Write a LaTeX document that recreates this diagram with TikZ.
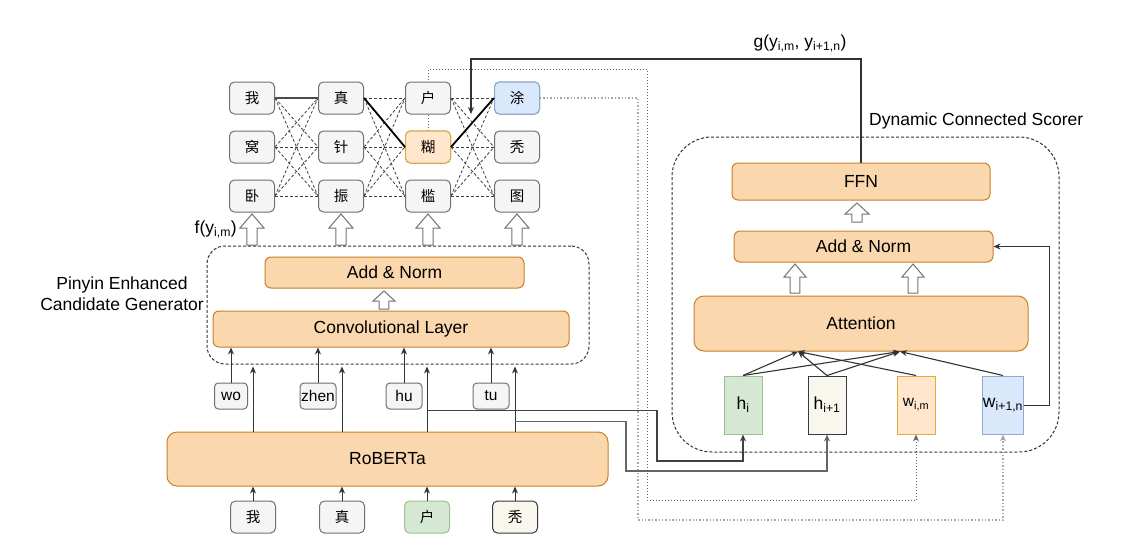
\documentclass[tikz,border=0pt]{standalone}
\usepackage{fontspec}
\setmainfont{Liberation Sans}
\newfontfamily\cjk{Noto Sans CJK SC}
\usetikzlibrary{arrows.meta,backgrounds,calc}
\definecolor{orfill}{HTML}{FAD7AC}
\definecolor{orline}{HTML}{C7812A}
\definecolor{gfill}{HTML}{F5F5F5}
\definecolor{gline}{HTML}{707070}
\definecolor{grfill}{HTML}{D5E8D4}
\definecolor{grline}{HTML}{9AC28A}
\definecolor{blfill}{HTML}{DAE8FC}
\definecolor{blline}{HTML}{8EA9D2}
\definecolor{pefill}{HTML}{FFE6CC}
\definecolor{peline}{HTML}{E0AC3A}
\definecolor{befill}{HTML}{F9F7ED}
\definecolor{beline}{HTML}{36393D}
\newcommand{\fs}{\fontsize{17.5pt}{20pt}\selectfont}
\newcommand{\fsm}{\fontsize{15.5pt}{17pt}\selectfont}
\newcommand{\cjkfs}{\cjk\fontsize{14.5pt}{16pt}\selectfont}
\newcommand{\harrow}[5]{% x, ytop, ybottom, head half width, head height
  \draw[hollow] (#1-#4/2.3,#3) -- (#1-#4/2.3,#2+#5) -- (#1-#4,#2+#5) -- (#1,#2)
    -- (#1+#4,#2+#5) -- (#1+#4/2.3,#2+#5) -- (#1+#4/2.3,#3) -- cycle;}
\tikzset{
  block/.style={draw=orline, fill=orfill, rounded corners=6, inner sep=0, font=\fs, line width=1pt},
  cand/.style={draw=gline, fill=gfill, rounded corners=5, minimum width=45, minimum height=32, inner sep=0, font=\cjkfs, line width=1pt},
  pin/.style={draw=gline, fill=gfill, rounded corners=4, minimum height=26, inner sep=0, font=\fsm, line width=1pt},
  vec/.style={minimum width=38, minimum height=58, inner sep=0, line width=1pt},
  dbox/.style={draw=black!80, dashed, dash pattern=on 3pt off 2pt, rounded corners=#1, line width=1pt},
  conn/.style={draw=black!80, line width=1pt, -{Stealth[length=7pt,width=6pt]}},
  gdash/.style={draw=black!75, line width=0.8pt, dash pattern=on 3pt off 2pt},
  hl/.style={draw=black, line width=1.8pt},
  dotA/.style={draw=black!60, line width=1pt, dotted, -{Stealth[length=7pt,width=6pt,fill=black!60]}},
  dotB/.style={draw=black!35, line width=1.4pt, dotted, -{Stealth[length=7pt,width=6pt,fill=black!65]}},
  hollow/.style={draw=black!55, fill=white, line width=1pt},
  lbl/.style={font=\fs, inner sep=0},
}
\begin{document}
\begin{tikzpicture}[x=1pt,y=-1pt]
\useasboundingbox (0,0) rectangle (1148,544);

% ---------- candidate grid ----------
\foreach \c/\x in {1/252,2/341,3/428,4/517}
  \foreach \r/\y in {1/98,2/147,3/196}
    \node[cand] (c\c r\r) at (\x,\y) {};
\node at (c1r1) {\cjkfs 我};
\node at (c1r2) {\cjkfs 窝};
\node at (c1r3) {\cjkfs 卧};
\node at (c2r1) {\cjkfs 真};
\node at (c2r2) {\cjkfs 针};
\node at (c2r3) {\cjkfs 振};
\node at (c3r1) {\cjkfs 户};
\node[cand, draw=peline, fill=pefill] (c3r2) at (428,147) {糊};
\node at (c3r3) {\cjkfs 槛};
\node[cand, draw=blline, fill=blfill] (c4r1) at (517,98) {涂};
\node at (c4r2) {\cjkfs 秃};
\node at (c4r3) {\cjkfs 图};

\draw[draw=black!70, line width=2.4pt] (c1r1.east) -- (c2r1.west);
\draw[hl] (c2r1.east) -- (c3r2.west);
\draw[hl] (c3r2.east) -- (c4r1.west);

% hollow arrows under the grid
\foreach \x in {252,341,428,517} { \harrow{\x}{214}{245}{12}{14} }
\node[lbl, anchor=east] (flab) at (237,229) {f(y\textsubscript{i,m})};

% ---------- Pinyin Enhanced Candidate Generator ----------
\node[dbox=18, minimum width=382, minimum height=118] (pecg) at (398,305) {};
\node[block, minimum width=259, minimum height=31] (an1) at (394.5,272.5) {Add \& Norm};
\node[block, minimum width=356, minimum height=36] (conv) at (391,329) {Convolutional Layer};
\harrow{384}{291}{309}{11}{10}
\node[lbl, align=center] (pecglab) at (122,294) {Pinyin Enhanced\\[1pt]Candidate Generator};

% pinyin
\node[pin, minimum width=33] (py1) at (231,396) {wo};
\node[pin, minimum width=36] (py2) at (318,396) {zhen};
\node[pin, minimum width=36] (py3) at (404,396) {hu};
\node[pin, minimum width=36] (py4) at (491,396) {tu};
\foreach \i in {1,2,3,4} \draw[conn] (py\i.north) -- (conv.south -| py\i);

% ---------- RoBERTa ----------
\node[block, rounded corners=10, minimum width=441, minimum height=54] (rob) at (387.5,459) {RoBERTa};
\node[cand] (b1) at (253,517) {我};
\node[cand] (b2) at (342,517) {真};
\node[cand, draw=grline, fill=grfill] (b3) at (427,517) {户};
\node[cand, draw=beline, fill=befill] (b4) at (515,517) {秃};
\foreach \i in {1,2,3,4} {
  \draw[conn] (b\i.north) -- (rob.south -| b\i);
  \draw[conn] (rob.north -| b\i) -- ($(pecg.south -| b\i)+(0,2)$);
}

% ---------- Dynamic Connected Scorer ----------
\node[dbox=40, minimum width=387, minimum height=315] (dcs) at (865.5,294.5) {};
\node[lbl, anchor=west] (dcslab) at (869,121) {Dynamic Connected Scorer};
\node[block, minimum width=258, minimum height=37] (ffn) at (861,181.5) {FFN};
\node[block, minimum width=259, minimum height=31] (an2) at (863.5,246.5) {Add \& Norm};
\node[block, rounded corners=10, minimum width=334, minimum height=55] (attn) at (861,323.5) {Attention};
\harrow{857}{203}{222}{12}{11}
\harrow{795}{264}{293}{11}{13}
\harrow{913}{264}{293}{11}{13}

\node[vec, draw=grline, fill=grfill, font=\fs] (hi) at (743,405) {h\textsubscript{i}};
\node[vec, draw=beline, fill=befill, font=\fs] (hip) at (827,405) {h\textsubscript{i+1}};
\node[vec, draw=peline, fill=pefill, font=\fsm] (wim) at (916,405) {w\textsubscript{i,m}};
\node[vec, draw=blline, fill=blfill, font=\fs] (wn) at (1003,405) {w\textsubscript{i+1,n}};

\coordinate (p1) at ($(attn.south)+(-63,0)$);
\coordinate (p2) at ($(attn.south)+(39,0)$);
\draw[conn, line width=1.1pt] (hi.north) -- (p1);
\draw[conn, line width=1.1pt] (hi.north) -- (p2);
\draw[conn, line width=1.1pt] (hip.north) -- (p1);
\draw[conn, line width=1.1pt] (hip.north) -- (p2);
\draw[conn, line width=1.1pt] (wim.north) -- (p1);
\draw[conn, line width=1.1pt] (wn.north) -- (p2);

\coordinate (fb) at ($(an2.east)+(56,0)$);
\draw[conn] (wn.east) -| (fb) -- (an2.east);

% g(...) feedback
\coordinate (gc) at (471,59);
\coordinate (gt) at (471,114);
\draw[conn, line width=1.2pt] (ffn.north) |- (gc) -- (gt);
\node[lbl] (glab) at (800,43) {g(y\textsubscript{i,m}, y\textsubscript{i+1,n})};

% RoBERTa -> h_i, h_{i+1}
\coordinate (br1) at ($(rob.north -| b3)+(0,-21)$);
\coordinate (k1) at (657,461);
\draw[conn, line width=1.3pt, draw=black!75] (br1) -| (k1) -| (hi.south);
\coordinate (br2) at ($(rob.north -| b4)+(0,-10)$);
\coordinate (k2) at (626,471);
\draw[conn, line width=1.3pt, draw=black!60] (br2) -| (k2) -| (hip.south);

% background: white page, dashed candidate links, dotted embeddings
\begin{pgfonlayer}{background}
\fill[white] (0,0) rectangle (1148,544);
\foreach \c/\d in {1/2,2/3,3/4}
  \foreach \i in {1,2,3}
    \foreach \j in {1,2,3}
      \draw[gdash] (c\c r\i.east) -- (c\d r\j.west);
\coordinate (d1) at (647,69);
\coordinate (d1b) at (647,500);
\draw[dotA] (c3r2.north) |- (d1) -- (d1b) -| (wim.south);
\coordinate (d2) at (638,520);
\draw[dotB] (c4r1.east) -| (d2) -| (wn.south);
\end{pgfonlayer}
\end{tikzpicture}
\end{document}
